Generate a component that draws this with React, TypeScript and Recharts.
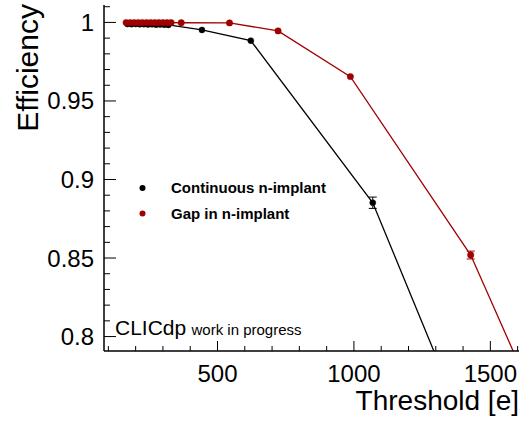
import React from 'react';
import { LineChart, Line, XAxis, YAxis, ErrorBar } from 'recharts';

// Continuous n-implant
const contThreshold = [170, 185, 200, 215, 230, 245, 260, 275, 290, 305, 320, 443, 622, 1069, 1430];
const contEff = [0.999, 0.9989, 0.999, 0.9988, 0.9989, 0.9987, 0.9988, 0.9986, 0.9987, 0.9985, 0.9984, 0.9952, 0.9884, 0.8852, 0.733];
const contErr = [0, 0, 0, 0, 0, 0, 0, 0, 0, 0, 0, 0, 0, 0.0036, 0];

// Gap in n-implant
const gapThreshold = [165, 180, 195, 210, 225, 240, 255, 270, 285, 300, 315, 330, 367, 544, 722, 987, 1428, 1700];
const gapEff = [0.9999, 0.9999, 0.9999, 0.9999, 0.9999, 0.9999, 0.9999, 0.9999, 0.9999, 0.9999, 0.9999, 0.9999, 0.9998, 0.9997, 0.9946, 0.9655, 0.8519, 0.745];
const gapErr = [0, 0, 0, 0, 0, 0, 0, 0, 0, 0, 0, 0, 0, 0, 0, 0, 0.0025, 0];

const xTicks = [100, 200, 300, 400, 500, 600, 700, 800, 900, 1000, 1100, 1200, 1300, 1400, 1500, 1600];
const xMajor = [500, 1000, 1500];
const yTicks = [0.8, 0.81, 0.82, 0.83, 0.84, 0.85, 0.86, 0.87, 0.88, 0.89, 0.9, 0.91, 0.92, 0.93, 0.94, 0.95, 0.96, 0.97, 0.98, 0.99, 1.0, 1.01];
const yMajor = [0.8, 0.85, 0.9, 0.95, 1.0];
const yMajorLabels = ['0.8', '0.85', '0.9', '0.95', '1'];

const seriesNames = ['Continuous n-implant', 'Gap in n-implant'];
const BLACK = '#000000';
const RED = '#a00000';

const contData = contThreshold.map((t, i) => ({ t, e: contEff[i], err: contErr[i] }));
const gapData = gapThreshold.map((t, i) => ({ t, e: gapEff[i], err: gapErr[i] }));

const FONT = '"Liberation Sans", Arial, Helvetica, sans-serif';

const isMajorX = (v: number) => xMajor.includes(v);
const majorYIndex = (v: number) => yMajor.findIndex((m) => Math.abs(m - v) < 1e-9);

const BottomTick = (props: any) => {
  const { x, y, payload } = props;
  const major = isMajorX(payload.value);
  return (
    <g>
      <line x1={x} x2={x} y1={y} y2={y - (major ? 10 : 5)} stroke="#000" strokeWidth={1} />
      {major && (
        <text x={x} y={y + 31} textAnchor="middle" fontSize={24} fontFamily={FONT} fill="#000">
          {payload.value}
        </text>
      )}
    </g>
  );
};

const TopTick = (props: any) => {
  const { x, y, payload } = props;
  const major = isMajorX(payload.value);
  return <line x1={x} x2={x} y1={y} y2={y + (major ? 10 : 5)} stroke="#000" strokeWidth={1} />;
};

const LeftTick = (props: any) => {
  const { x, y, payload } = props;
  const idx = majorYIndex(payload.value);
  const major = idx >= 0;
  return (
    <g>
      <line x1={x} x2={x + (major ? 12 : 6)} y1={y} y2={y} stroke="#000" strokeWidth={1} />
      {major && (
        <text x={x - 10} y={y + 8.5} textAnchor="end" fontSize={24} fontFamily={FONT} fill="#000">
          {yMajorLabels[idx]}
        </text>
      )}
    </g>
  );
};

const XTitle = (props: any) => {
  const vb = props.viewBox || {};
  return (
    <text x={vb.x + vb.width} y={vb.y + 59} textAnchor="end" fontSize={28} fontFamily={FONT} fill="#000">
      Threshold [e]
    </text>
  );
};

const YTitle = (props: any) => {
  const vb = props.viewBox || {};
  const tx = 38;
  const ty = vb.y - 1;
  return (
    <text x={tx} y={ty} transform={`rotate(-90, ${tx}, ${ty})`} textAnchor="end" fontSize={30} fontFamily={FONT} fill="#000">
      Efficiency
    </text>
  );
};

export default function App() {
  return (
    <div style={{ position: 'absolute', left: 0, top: 0, width: 525, height: 423, background: '#fff' }}>
      <LineChart width={525} height={423} margin={{ top: 5, right: 6, bottom: 0, left: 0 }}>
        <XAxis
          xAxisId="b"
          dataKey="t"
          type="number"
          orientation="bottom"
          domain={[84, 1605]}
          allowDataOverflow
          ticks={xTicks}
          interval={0}
          tickSize={0}
          tickMargin={0}
          tickLine={false}
          tick={<BottomTick />}
          height={72}
          axisLine={{ stroke: '#000', strokeWidth: 1.5 }}
          label={<XTitle />}
        />
        <XAxis
          xAxisId="top"
          dataKey="t"
          type="number"
          orientation="top"
          domain={[84, 1605]}
          allowDataOverflow
          ticks={xTicks}
          interval={0}
          tickSize={0}
          tickMargin={0}
          tickLine={false}
          tick={<TopTick />}
          height={0}
          axisLine={{ stroke: '#000', strokeWidth: 1.5 }}
        />
        <YAxis
          yAxisId="l"
          type="number"
          domain={[0.7908, 1.0111]}
          allowDataOverflow
          ticks={yTicks}
          interval={0}
          tickSize={0}
          tickMargin={0}
          tickLine={false}
          tick={<LeftTick />}
          width={104}
          axisLine={{ stroke: '#000', strokeWidth: 1.5 }}
          label={<YTitle />}
        />
        <YAxis
          yAxisId="r"
          orientation="right"
          width={0}
          tick={false}
          tickLine={false}
          axisLine={{ stroke: '#000', strokeWidth: 1.5 }}
        />
        <Line
          xAxisId="b"
          yAxisId="l"
          data={contData}
          dataKey="e"
          name={seriesNames[0]}
          stroke={BLACK}
          strokeWidth={1.3}
          dot={{ r: 3, fill: BLACK, stroke: BLACK, strokeWidth: 0.5 }}
          isAnimationActive={false}
        >
          <ErrorBar dataKey="err" width={4} stroke={BLACK} strokeWidth={1} direction="y" />
        </Line>
        <Line
          xAxisId="b"
          yAxisId="l"
          data={gapData}
          dataKey="e"
          name={seriesNames[1]}
          stroke={RED}
          strokeWidth={1.3}
          dot={{ r: 3.2, fill: RED, stroke: RED, strokeWidth: 0.5 }}
          isAnimationActive={false}
        >
          <ErrorBar dataKey="err" width={4} stroke={RED} strokeWidth={1} direction="y" />
        </Line>
      </LineChart>
      <svg width={525} height={423} style={{ position: 'absolute', left: 0, top: 0, pointerEvents: 'none' }}>
        <circle cx={142.5} cy={188} r={3} fill={BLACK} />
        <text x={171} y={193.3} fontSize={15} fontWeight="bold" fontFamily={FONT} fill="#000">
          {seriesNames[0]}
        </text>
        <circle cx={142.5} cy={213.5} r={3} fill={RED} />
        <text x={171} y={219} fontSize={15} fontWeight="bold" fontFamily={FONT} fill="#000">
          {seriesNames[1]}
        </text>
        <text x={115} y={335} fontSize={21} fontFamily={FONT} fill="#000">
          CLICdp
        </text>
        <text x={191.5} y={335} fontSize={15} fontFamily={FONT} fill="#000">
          work in progress
        </text>
      </svg>
    </div>
  );
}
